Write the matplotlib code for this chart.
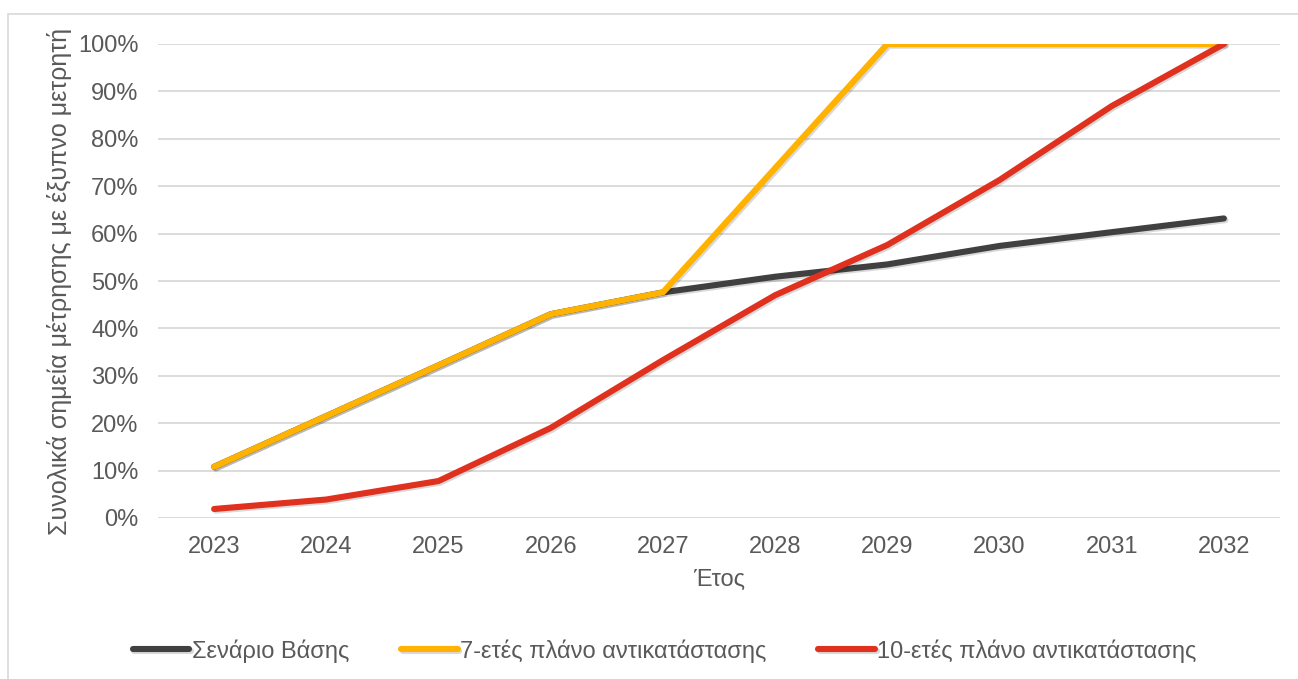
import matplotlib

matplotlib.use('Agg')
import matplotlib.pyplot as plt
import matplotlib.patheffects as pe
from matplotlib.patches import Rectangle
from matplotlib.ticker import PercentFormatter

plt.rcParams['font.family'] = ['Liberation Sans', 'DejaVu Sans']

# Δεδομένα
eti = ['2023', '2024', '2025', '2026', '2027', '2028', '2029', '2030', '2031', '2032']
senario_vasis = [0.108, 0.215, 0.322, 0.430, 0.476, 0.509, 0.535, 0.574, 0.603, 0.632]
plano_7 = [0.108, 0.215, 0.322, 0.430, 0.476, 0.738, 1.0, 1.0, 1.0, 1.0]
plano_10 = [0.019, 0.039, 0.078, 0.190, 0.333, 0.470, 0.576, 0.713, 0.869, 1.0]

seires = [
    ('Σενάριο Βάσης', senario_vasis, '#404040'),
    ('7-ετές πλάνο αντικατάστασης', plano_7, '#FFB300'),
    ('10-ετές πλάνο αντικατάστασης', plano_10, '#E0301E'),
]

fig = plt.figure(figsize=(12.98, 6.79), dpi=100)
# εξωτερικό πλαίσιο
fig.patches.append(Rectangle((8 / 1298, -0.05), 1.2, 1 - 14 / 679 + 0.05,
                             transform=fig.transFigure, fill=False,
                             edgecolor='#d9d9d9', linewidth=1.2))

ax = fig.add_axes([158 / 1298, 1 - 518 / 679, (1280 - 158) / 1298, (518 - 44) / 679])

x = list(range(len(eti)))
skia = [pe.SimpleLineShadow(offset=(1.2, -1.2), alpha=0.15, shadow_color='black'), pe.Normal()]
for onoma, timi, xroma in seires:
    ax.plot(x, timi, color=xroma, linewidth=4.4, solid_capstyle='round',
            solid_joinstyle='round', label=onoma, path_effects=skia)

ax.set_xlim(-0.5, len(eti) - 0.5)
ax.set_ylim(0, 1)
ax.set_yticks([i / 10 for i in range(11)])
ax.yaxis.set_major_formatter(PercentFormatter(1.0, decimals=0))
ax.set_xticks(x)
ax.set_xticklabels(eti)
ax.grid(axis='y', color='#d9d9d9', linewidth=1.3)
ax.set_axisbelow(True)
for s in ax.spines.values():
    s.set_visible(False)
ax.tick_params(length=0, labelsize=17, labelcolor='#595959')
ax.tick_params(axis='x', pad=13)
ax.tick_params(axis='y', pad=14)

ax.set_xlabel('Έτος', fontsize=17, color='#595959', labelpad=8)
ax.set_ylabel('Συνολικά σημεία μέτρησης με έξυπνο μετρητή', fontsize=18,
              color='#595959', labelpad=4)

leg = fig.legend(loc='center', bbox_to_anchor=(0.512, 1 - 651 / 679), ncol=3,
                 frameon=False, fontsize=17, handlelength=2.4, handletextpad=0.1,
                 columnspacing=2.2, labelcolor='#595959')

plt.savefig('out.png', dpi=100)
